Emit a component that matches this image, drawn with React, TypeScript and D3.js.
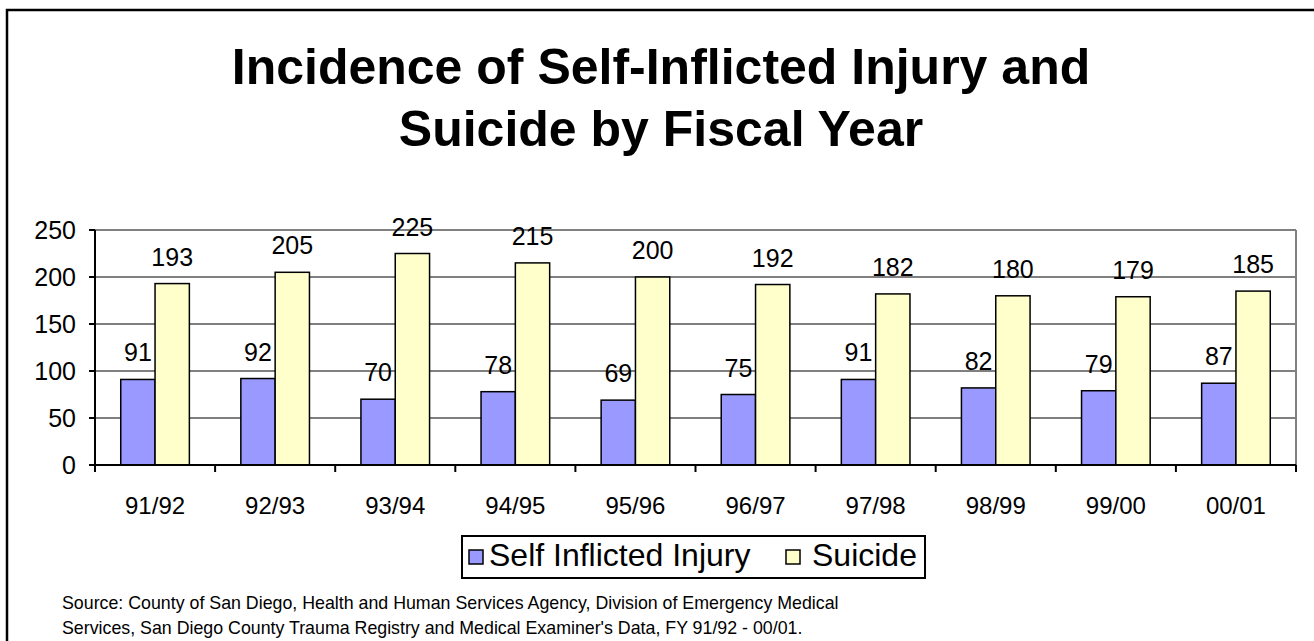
import * as d3 from "d3";

const years = ["91/92", "92/93", "93/94", "94/95", "95/96", "96/97", "97/98", "98/99", "99/00", "00/01"];
const injury = [91, 92, 70, 78, 69, 75, 91, 82, 79, 87];
const suicide = [193, 205, 225, 215, 200, 192, 182, 180, 179, 185];
const seriesNames = ["Self Inflicted Injury", "Suicide"];
const seriesColors = ["#9999FF", "#FFFFCC"];
const yTicks = [0, 50, 100, 150, 200, 250];

const font = "'Liberation Sans', Arial, sans-serif";

export default function App() {
  const left = 95;
  const right = 1296;
  const top = 230;
  const bottom = 465;

  const x0 = d3.scaleBand<string>().domain(years).range([left, right]).paddingInner(0).paddingOuter(0);
  const x1 = d3
    .scaleBand<string>()
    .domain(seriesNames)
    .range([0, x0.bandwidth()])
    .paddingInner(0)
    .paddingOuter(0.75);
  const y = d3.scaleLinear().domain([0, 250]).range([bottom, top]);

  const values = [injury, suicide];

  const bars = years.map((yr, i) => (
    <g key={yr} transform={`translate(${x0(yr)},0)`}>
      {seriesNames.map((s, k) => {
        const v = values[k][i];
        const bx = x1(s)!;
        return (
          <g key={s}>
            <rect
              x={bx}
              y={y(v)}
              width={x1.bandwidth()}
              height={bottom - y(v)}
              fill={seriesColors[k]}
              stroke="black"
              strokeWidth={1.5}
            />
            <text
              x={bx + x1.bandwidth() / 2}
              y={y(v) - 18}
              textAnchor="middle"
              fontSize={25}
              fontFamily={font}
            >
              {v}
            </text>
          </g>
        );
      })}
    </g>
  ));

  return (
    <svg width={1314} height={641} style={{ position: "absolute", left: 0, top: 0, background: "white" }}>
      <rect x={7} y={10} width={1330} height={660} fill="white" stroke="black" strokeWidth={2.5} />

      <text x={661} y={84} textAnchor="middle" fontSize={50} fontWeight="bold" fontFamily={font}>
        Incidence of Self-Inflicted Injury and
      </text>
      <text x={661} y={146} textAnchor="middle" fontSize={50} fontWeight="bold" fontFamily={font}>
        Suicide by Fiscal Year
      </text>

      {/* gridlines */}
      {yTicks
        .filter((t) => t > 0 && t < 250)
        .map((t) => (
          <line key={t} x1={left} x2={right} y1={y(t)} y2={y(t)} stroke="black" strokeWidth={1} />
        ))}
      {/* plot area border (top and right) */}
      <line x1={left} x2={right} y1={y(250)} y2={y(250)} stroke="#808080" strokeWidth={2} />
      <line x1={right} x2={right} y1={y(250)} y2={bottom} stroke="#808080" strokeWidth={2} />

      {bars}

      {/* y axis */}
      <line x1={left} x2={left} y1={top} y2={bottom} stroke="black" strokeWidth={2} />
      {yTicks.map((t) => (
        <g key={t}>
          <line x1={left - 6} x2={left} y1={y(t)} y2={y(t)} stroke="black" strokeWidth={2} />
          <text x={76} y={y(t) + 9} textAnchor="end" fontSize={25} fontFamily={font}>
            {t}
          </text>
        </g>
      ))}

      {/* x axis */}
      <line x1={left - 6} x2={right} y1={bottom} y2={bottom} stroke="black" strokeWidth={2} />
      {[...years.map((yr) => x0(yr)!), right].map((px, i) => (
        <line key={i} x1={px} x2={px} y1={bottom} y2={bottom + 7} stroke="black" strokeWidth={2} />
      ))}
      {years.map((yr) => (
        <text
          key={yr}
          x={x0(yr)! + x0.bandwidth() / 2}
          y={514}
          textAnchor="middle"
          fontSize={24}
          fontFamily={font}
        >
          {yr}
        </text>
      ))}

      {/* legend */}
      <rect x={462} y={536} width={463} height={42} fill="white" stroke="black" strokeWidth={2} />
      <rect x={469} y={550} width={14} height={14} fill={seriesColors[0]} stroke="black" strokeWidth={1.5} />
      <text x={489} y={566} fontSize={32} fontFamily={font}>
        {seriesNames[0]}
      </text>
      <rect x={786} y={550} width={14} height={14} fill={seriesColors[1]} stroke="black" strokeWidth={1.5} />
      <text x={812} y={566} fontSize={32} fontFamily={font}>
        {seriesNames[1]}
      </text>

      {/* source */}
      <text x={62} y={609} fontSize={17.8} fontFamily={font}>
        Source: County of San Diego, Health and Human Services Agency, Division of Emergency Medical
      </text>
      <text x={62} y={634} fontSize={17.8} fontFamily={font}>
        Services, San Diego County Trauma Registry and Medical Examiner's Data, FY 91/92 - 00/01.
      </text>
    </svg>
  );
}
